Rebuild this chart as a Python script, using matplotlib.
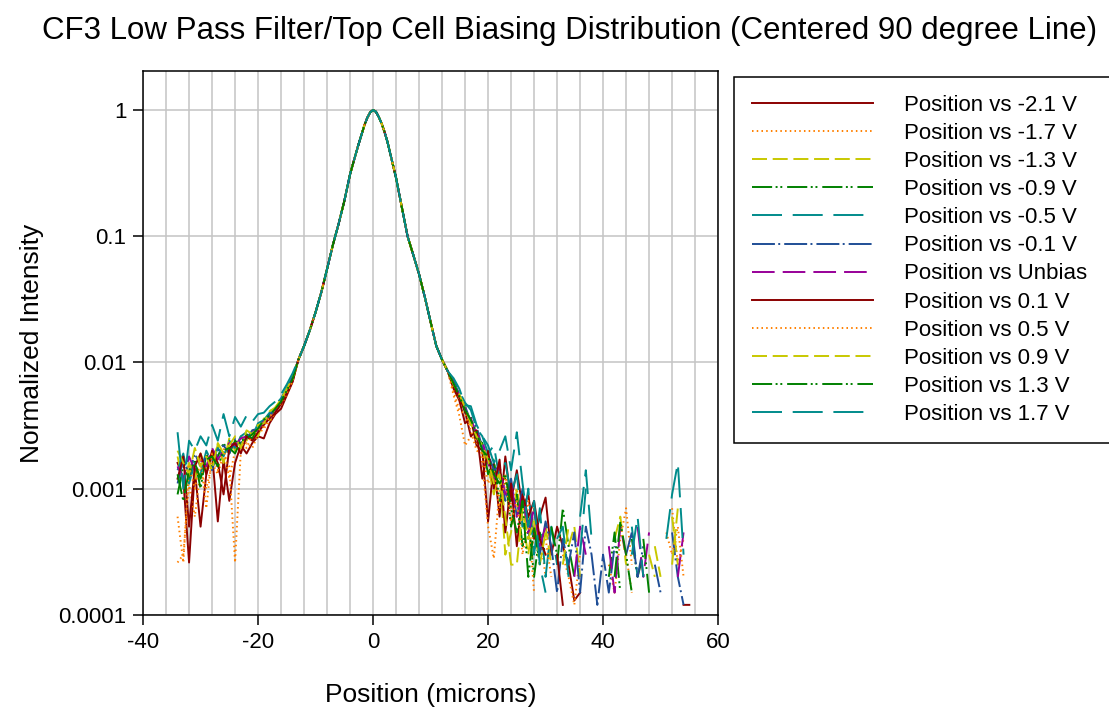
import numpy as np
import matplotlib
matplotlib.use("Agg")
import matplotlib.pyplot as plt
from matplotlib.ticker import MultipleLocator, FixedLocator, NullLocator, FuncFormatter

plt.rcParams['font.family'] = ['Liberation Sans', 'DejaVu Sans']
plt.rcParams['lines.scale_dashes'] = False
plt.rcParams['axes.unicode_minus'] = False

nan = np.nan

# sample positions (microns): left tail -34..-14, core -13..13, right tail 14..55
x_left = list(range(-34, -13))
x_core = [-13, -12, -11, -10, -9, -8, -7, -6, -5, -4, -3, -2.5, -2, -1.5, -1, -0.5, 0,
          0.5, 1, 1.5, 2, 2.5, 3, 4, 5, 6, 7, 8, 9, 10, 11, 12, 13]
x_right = list(range(14, 56))

# central peak, shared by every bias (they overlap completely there)
core = [0.0105, 0.0135, 0.018, 0.025, 0.036, 0.055, 0.085, 0.125, 0.19, 0.31,
        0.45, 0.54, 0.64, 0.76, 0.87, 0.96, 1.0,
        0.97, 0.88, 0.78, 0.67, 0.56, 0.45, 0.29, 0.17, 0.10,
        0.071, 0.050, 0.033, 0.021, 0.0135, 0.0105, 0.0085]

# tails, in units of 1e-3 (nan = no signal / dropped out on log scale)
tail_m21_l = [1.6, 1.2, 0.26, 1.4, 0.5, 1.3, 1.9, 0.55, 1.7, 0.8, 1.6, 2.2, 1.9, 2.3, 2.6, 2.5, 3.3, 3.9, 4.3, 5.5, 7.0]
tail_m21_r = [6.2, 5.0, 3.3, 3.6, 2.2, 2.0, 0.55, 1.6, 0.6, 1.8, 0.8, 1.4, 0.7, 0.9, 0.4, 0.6, 0.85, 0.3, 0.5, 0.35,
              0.25, 0.13, 0.15, nan, nan, nan, nan, nan, nan, nan, nan, nan, nan, nan, nan, nan, nan, nan, nan, nan, 0.12, 0.12]

tail_m17_l = [0.26, 0.3, 1.1, 0.6, 1.4, 1.0, 1.6, 1.3, 1.9, 1.5, 0.26, 2.0, 2.3, 2.1, 2.7, 3.0, 3.4, 4.0, 4.6, 5.6, 7.2]
tail_m17_r = [5.5, 3.8, 2.2, 2.6, 2.4, 1.6, 0.5, 0.28, 1.0, 1.3, 0.7, 1.0, 0.5, 0.8, 0.3, 0.45, 0.2, nan, nan, 0.3,
              0.2, 0.12, 0.3, nan, nan, nan, nan, 0.25, 0.15, 0.4, 0.7, 0.25, nan, nan, nan, nan, nan, nan, 0.7, 0.25, 0.4, nan]

tail_m13_l = [1.8, 1.1, 1.6, 1.2, 1.9, 1.4, 1.7, 2.2, 1.6, 2.5, 2.0, 2.6, 2.4, 2.9, 2.6, 3.6, 3.5, 4.4, 5.0, 6.1, 7.6]
tail_m13_r = [7.0, 5.2, 4.6, 3.2, 3.0, 2.0, 1.5, 0.9, 1.4, 0.3, 0.45, 1.0, 0.55, 0.3, 0.7, 0.35, 0.5, 0.25, nan, nan,
              0.35, 0.5, 0.2, nan, nan, nan, nan, nan, 0.4, 0.6, 0.25, nan, nan, nan, nan, 0.35, 0.2, nan, 0.6, 0.25, nan, nan]

tail_m09_l = [0.9, 1.5, 1.2, 1.7, 1.0, 1.9, 1.5, 1.8, 2.3, 1.9, 2.4, 2.2, 2.7, 2.5, 3.1, 3.4, 3.9, 4.1, 5.0, 6.0, 7.3]
tail_m09_r = [6.6, 5.7, 4.0, 3.7, 2.5, 2.3, 1.3, 1.7, 0.8, 1.2, 0.5, 0.9, 0.35, 0.6, 0.2, 0.45, 0.3, nan, 0.25, 0.7,
              0.35, 0.2, nan, nan, nan, nan, nan, 0.2, 0.45, 0.15, nan, 0.4, 0.2, 0.3, nan, nan, nan, nan, nan, nan, nan, nan]

tail_m05_l = [1.4, 1.9, 1.1, 1.6, 1.3, 2.0, 1.6, 2.1, 1.8, 2.4, 2.1, 2.6, 2.8, 2.6, 3.3, 3.5, 4.0, 4.6, 5.2, 6.3, 7.7]
tail_m05_r = [7.3, 5.9, 4.8, 4.2, 3.0, 2.6, 1.9, 2.2, 1.2, 1.6, 0.9, 1.3, 0.5, 1.0, 0.3, 0.7, 0.2, 0.5, 0.25, nan,
              nan, nan, 0.6, 1.4, 0.4, nan, nan, nan, nan, nan, nan, 0.5, 0.2, nan, nan, nan, nan, nan, nan, nan, nan, nan]

tail_m01_l = [1.1, 1.7, 1.3, 1.9, 1.5, 1.8, 1.4, 2.0, 2.2, 1.9, 2.5, 2.3, 2.5, 2.9, 3.0, 3.4, 3.8, 4.3, 5.0, 6.0, 7.4]
tail_m01_r = [7.1, 5.6, 4.5, 3.4, 3.1, 2.1, 1.9, 1.4, 1.5, 0.8, 1.2, 0.6, 1.0, 0.4, 0.7, 0.3, 0.55, 0.35, 0.15, 0.4,
              0.25, 0.45, 0.15, 0.5, 0.3, 0.12, 0.3, 0.15, 0.35, nan, 0.3, 0.45, 0.2, 0.35, nan, 0.25, 0.15, nan, 0.45, 0.2, 0.12, nan]

tail_unb_l = [1.5, 1.2, 1.8, 1.4, 1.7, 1.5, 2.1, 1.7, 2.0, 2.3, 2.2, 2.5, 2.6, 2.8, 2.9, 3.4, 3.6, 4.2, 4.9, 5.8, 7.5]
tail_unb_r = [6.9, 5.4, 4.3, 3.6, 2.7, 2.4, 1.6, 1.2, 1.5, 0.9, 1.1, 0.6, 0.9, 0.45, 0.7, 0.35, 0.5, nan, nan, nan,
              nan, 0.2, 0.5, 0.3, nan, nan, nan, 0.35, 0.15, 0.5, 0.3, nan, 0.5, 0.2, 0.45, nan, nan, nan, nan, 0.2, 0.45, nan]

tail_p01_l = [1.2, 1.8, 0.5, 1.5, 1.9, 1.3, 2.0, 1.6, 0.9, 2.1, 2.3, 1.9, 2.6, 2.4, 2.8, 3.2, 3.6, 4.0, 4.7, 5.7, 7.1]
tail_p01_r = [6.4, 5.3, 4.1, 2.6, 2.9, 1.2, 2.0, 1.0, 1.7, 0.45, 1.1, 0.35, 0.9, 0.6, 0.8, 0.4, 0.3, nan, 0.3, 0.12,
              nan, nan, nan, nan, nan, nan, nan, nan, nan, nan, nan, nan, nan, nan, nan, nan, nan, nan, nan, nan, nan, nan]

tail_p05_l = [0.6, 0.26, 1.5, 1.0, 1.7, 0.7, 1.9, 1.4, 2.1, 1.2, 2.0, 2.3, 2.1, 2.7, 2.9, 3.1, 3.7, 4.3, 4.8, 5.8, 7.0]
tail_p05_r = [5.9, 4.2, 3.9, 2.9, 2.0, 1.9, 1.1, 1.4, 0.7, 1.2, 0.55, 0.8, 0.3, 0.6, 0.15, nan, 0.4, 0.2, nan, nan,
              nan, nan, nan, nan, nan, nan, nan, nan, nan, nan, 0.3, 0.15, nan, nan, nan, nan, nan, 0.45, 0.3, 0.5, 0.2, nan]

tail_p09_l = [2.0, 1.6, 1.3, 2.1, 1.5, 1.8, 1.4, 2.3, 1.9, 2.2, 2.6, 2.1, 2.9, 2.7, 3.2, 3.3, 4.1, 4.4, 5.1, 6.2, 7.5]
tail_p09_r = [6.7, 5.6, 4.4, 3.3, 2.6, 2.2, 1.7, 1.1, 1.3, 0.6, 0.25, 0.25, 0.7, 0.4, 0.55, 0.25, 0.45, nan, nan, 0.25,
              0.5, nan, nan, nan, nan, nan, nan, nan, nan, nan, nan, nan, nan, nan, 0.3, 0.2, nan, nan, 0.25, 0.7, nan, nan]

tail_p13_l = [1.3, 0.8, 1.4, 1.6, 1.2, 1.7, 1.8, 1.5, 2.0, 2.1, 1.9, 2.4, 2.5, 2.7, 3.0, 3.5, 3.8, 4.3, 4.9, 6.0, 7.4]
tail_p13_r = [6.8, 5.4, 4.2, 3.5, 2.8, 2.0, 1.8, 1.3, 1.1, 1.3, 0.7, 0.45, 0.8, 0.2, 0.5, 0.25, nan, 0.5, 0.3, nan,
              nan, nan, nan, nan, nan, nan, nan, nan, 0.2, 0.55, 0.3, 0.15, nan, 0.4, 0.15, nan, nan, nan, nan, nan, nan, nan]

tail_p17_l = [2.8, 1.0, 2.4, 2.0, 2.6, 2.2, 3.2, 2.4, 3.9, 2.6, 3.7, 3.1, 3.8, 3.4, 3.9, 4.0, 4.5, 4.9, 5.6, 6.7, 8.2]
tail_p17_r = [7.5, 6.2, 4.6, 4.5, 3.2, 2.6, 2.2, 1.6, 2.0, 2.6, 1.4, 2.8, 1.1, 0.5, 0.8, 0.25, 0.15, nan, 0.4, 0.5,
              0.2, nan, 0.3, 1.0, nan, nan, nan, nan, nan, nan, nan, 0.3, 0.6, 0.2, nan, nan, nan, 0.4, 0.9, 1.6, 0.3, nan]

labels = ["Position vs -2.1 V", "Position vs -1.7 V", "Position vs -1.3 V", "Position vs -0.9 V",
          "Position vs -0.5 V", "Position vs -0.1 V", "Position vs Unbias", "Position vs 0.1 V",
          "Position vs 0.5 V", "Position vs 0.9 V", "Position vs 1.3 V", "Position vs 1.7 V"]
tails = [(tail_m21_l, tail_m21_r), (tail_m17_l, tail_m17_r), (tail_m13_l, tail_m13_r),
         (tail_m09_l, tail_m09_r), (tail_m05_l, tail_m05_r), (tail_m01_l, tail_m01_r),
         (tail_unb_l, tail_unb_r), (tail_p01_l, tail_p01_r), (tail_p05_l, tail_p05_r),
         (tail_p09_l, tail_p09_r), (tail_p13_l, tail_p13_r), (tail_p17_l, tail_p17_r)]

# SigmaPlot-like colour / dash cycle
colors = ["#8b0000", "#ff8000", "#c8c800", "#008000", "#008b8b", "#1f4e96",
          "#980098", "#8b0000", "#ff8000", "#c8c800", "#008000", "#008b8b"]
dash_solid = '-'
dash_dot = (0, (1.1, 2.3))
dash_short = (0, (10.8, 4.1))
dash_ddot = (0, (14.5, 2.5, 1.4, 2.0, 1.4, 3.5))
dash_long = (0, (21.6, 7.7))
dash_dashdot = (0, (16.5, 2.4, 1.4, 2.9))
dash_med = (0, (16.3, 5.8))
styles = [dash_solid, dash_dot, dash_short, dash_ddot, dash_long, dash_dashdot,
          dash_med, dash_solid, dash_dot, dash_short, dash_ddot, dash_long]

fig = plt.figure(figsize=(11.09, 7.10), dpi=100)
ax = fig.add_axes([0.129, 0.134, 0.5185, 0.766])

x_all = x_left + x_core + x_right
for (tl, tr), lab, c, ls in zip(tails, labels, colors, styles):
    y = np.array(tl) * 1e-3
    y = np.concatenate([y, core, np.array(tr) * 1e-3])
    ax.plot(x_all, y, color=c, lw=1.4, linestyle=ls, label=lab)

ax.set_yscale('log')
ax.set_xlim(-40, 60)
ax.set_ylim(1e-4, 2.04)
ax.xaxis.set_major_locator(FixedLocator([-40, -20, 0, 20, 40, 60]))
ax.xaxis.set_minor_locator(MultipleLocator(4))
ax.yaxis.set_major_locator(FixedLocator([1e-4, 1e-3, 1e-2, 1e-1, 1]))
ax.yaxis.set_minor_locator(NullLocator())
ax.yaxis.set_major_formatter(FuncFormatter(lambda v, p: "%g" % v))
ax.grid(True, which='both', axis='x', color='#c4c4c4', lw=1.1)
ax.grid(True, which='major', axis='y', color='#c4c4c4', lw=1.1)
ax.set_axisbelow(True)
ax.tick_params(which='major', direction='out', length=7, width=1.1, labelsize=16, pad=5)
ax.tick_params(which='minor', length=0)
for s in ax.spines.values():
    s.set_linewidth(1.1)
    s.set_color('black')

ax.set_xlabel("Position (microns)", fontsize=19, labelpad=22)
ax.set_ylabel("Normalized Intensity", fontsize=19, labelpad=10)
fig.text(0.514, 0.956, "CF3 Low Pass Filter/Top Cell Biasing Distribution (Centered 90 degree Line)",
         ha='center', va='center', fontsize=22.5)

leg = ax.legend(loc='upper left', bbox_to_anchor=(734 / 1109, 0.37, 0.38, 1 - 77 / 710 - 0.37),
                bbox_transform=fig.transFigure, mode='expand', fontsize=16,
                handlelength=5.45, handletextpad=1.38, labelspacing=0.32, borderpad=0.8,
                borderaxespad=0, fancybox=False, framealpha=1, edgecolor='black')
leg.get_frame().set_linewidth(1.1)

fig.savefig("out.png", dpi=100)
